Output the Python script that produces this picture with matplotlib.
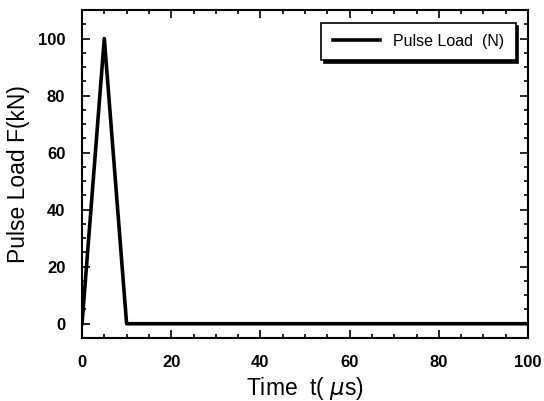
import matplotlib
matplotlib.use('Agg')
import matplotlib.pyplot as plt
from matplotlib.ticker import MultipleLocator

# pulse load data
timeArr = [0, 5, 10, 100]
loadArr = [0, 100, 0, 0]

plt.rcParams['font.family'] = ['Liberation Sans', 'DejaVu Sans']

fig = plt.figure(figsize=(5.44, 4.01), dpi=100)
ax = fig.add_axes([82 / 544, 1 - 338 / 401, 446 / 544, 328 / 401])

ax.plot(timeArr, loadArr, color='black', linewidth=2.6, label='Pulse Load  (N)')

ax.set_xlim(0, 100)
ax.set_ylim(-5, 110)
ax.xaxis.set_major_locator(MultipleLocator(20))
ax.xaxis.set_minor_locator(MultipleLocator(5))
ax.yaxis.set_major_locator(MultipleLocator(20))
ax.yaxis.set_minor_locator(MultipleLocator(5))
ax.tick_params(which='both', direction='in', top=True, right=True, width=1.2)
ax.tick_params(which='major', length=6, labelsize=12, pad=12)
ax.tick_params(which='minor', length=3)
for lbl in ax.get_xticklabels() + ax.get_yticklabels():
    lbl.set_fontweight('bold')
for s in ax.spines.values():
    s.set_linewidth(1.5)

ax.set_xlabel('Time  t( $\\mu$s)', fontsize=16.5, labelpad=4)
ax.set_ylabel('Pulse Load F(kN)', fontsize=16.5, labelpad=6)

leg = ax.legend(loc='upper right', fontsize=11.5, shadow={'ox': 2, 'oy': -2, 'color': 'black', 'alpha': 1},
                fancybox=False, handlelength=3.0, borderpad=0.7, framealpha=1,
                bbox_to_anchor=(0.99, 0.985))
leg.get_frame().set_edgecolor('black')
leg.get_frame().set_linewidth(1.2)

fig.savefig('out.png', dpi=100)
